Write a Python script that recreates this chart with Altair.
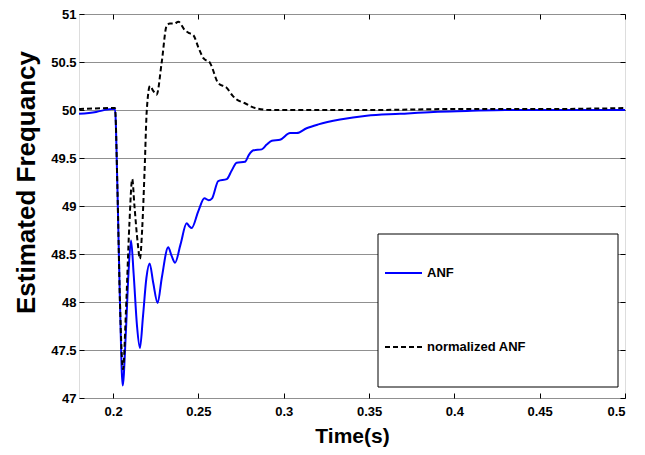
import altair as alt
import pandas as pd

# ---- data ----
anf_t = [0.180, 0.190, 0.199, 0.2011, 0.2025, 0.2040, 0.2056, 0.2075, 0.2090, 0.2105,
         0.2120, 0.2140, 0.2157, 0.2175, 0.2195, 0.2214, 0.2235, 0.2261, 0.2285, 0.2323,
         0.2343, 0.2363, 0.2395, 0.2431, 0.2446, 0.2460, 0.2500, 0.2535, 0.2560, 0.2580,
         0.2616, 0.2666, 0.2695, 0.2724, 0.2773, 0.2795, 0.2822, 0.2871, 0.2900, 0.2930,
         0.2978, 0.3037, 0.3076, 0.3134, 0.3203, 0.333, 0.3486, 0.3681, 0.3877, 0.4072,
         0.43, 0.5]
anf_f = [49.96, 49.98, 50.01, 50.01, 49.2, 48.0, 47.13, 47.7, 48.3, 48.64,
         48.3, 47.75, 47.52, 47.85, 48.25, 48.40, 48.2, 47.99, 48.25, 48.57,
         48.48, 48.41, 48.6, 48.82, 48.79, 48.77, 48.95, 49.08, 49.06, 49.08,
         49.26, 49.28, 49.37, 49.45, 49.46, 49.53, 49.58, 49.59, 49.64, 49.68,
         49.69, 49.76, 49.76, 49.81, 49.85, 49.90, 49.94, 49.96, 49.98, 49.99,
         50.0, 50.0]

nanf_t = [0.180, 0.199, 0.2011, 0.2025, 0.2040, 0.2058, 0.2075, 0.2095, 0.2112, 0.2125,
          0.2145, 0.2157, 0.2170, 0.2185, 0.2197, 0.2216, 0.2235, 0.2255, 0.2285, 0.2314,
          0.2333, 0.2360, 0.2382, 0.2421, 0.2447, 0.2470, 0.2500, 0.2529, 0.2568, 0.2616,
          0.2666, 0.2700, 0.2724, 0.2773, 0.2832, 0.292, 0.35, 0.40, 0.45, 0.5]
nanf_f = [50.01, 50.02, 50.02, 49.2, 48.0, 47.30, 47.9, 48.8, 49.28, 49.0,
          48.6, 48.45, 48.75, 49.4, 49.99, 50.25, 50.20, 50.16, 50.50, 50.88,
          50.90, 50.90, 50.92, 50.83, 50.80, 50.78, 50.65, 50.54, 50.49, 50.28,
          50.23, 50.15, 50.11, 50.07, 50.02, 50.0, 50.0, 50.01, 50.01, 50.02]

x_ticks = [0.2, 0.25, 0.3, 0.35, 0.4, 0.45, 0.5]
y_ticks = [47, 47.5, 48, 48.5, 49, 49.5, 50, 50.5, 51]
legend_labels = ["ANF", "normalized ANF"]

W, H = 546, 384
FONT = "Liberation Sans"

anf = pd.DataFrame({"t": anf_t, "f": anf_f})
nanf = pd.DataFrame({"t": nanf_t, "f": nanf_f})

xs = alt.Scale(domain=[0.18, 0.5], nice=False, zero=False)
ys = alt.Scale(domain=[47, 51], nice=False, zero=False)

x_main = alt.X("t:Q", scale=xs, axis=alt.Axis(
    values=x_ticks, format=".2~f", title="Time(s)", grid=False, ticks=False,
    labelFont=FONT, labelFontSize=13, labelFontWeight="bold", labelColor="black",
    labelPadding=7, domain=False,
    titleFont=FONT, titleFontSize=21, titleFontWeight="bold", titleColor="black",
    titleBaseline="alphabetic", titleY=44))
y_main = alt.Y("f:Q", scale=ys, axis=alt.Axis(
    values=y_ticks, format=".1~f", title="Estimated Frequancy", grid=True,
    gridColor="#909090", gridWidth=1, ticks=False, domain=False,
    labelFont=FONT, labelFontSize=13, labelFontWeight="bold", labelColor="black",
    labelPadding=3,
    titleFont=FONT, titleFontSize=26, titleFontWeight="bold", titleColor="black",
    titleBaseline="alphabetic", titleX=-45, titleY=168, titleAngle=-90, titleAlign="center"))

blue = alt.Chart(anf).mark_line(color="#0000ff", strokeWidth=2, interpolate="monotone", clip=True).encode(
    x=x_main, y=y_main)
black = alt.Chart(nanf).mark_line(color="black", strokeWidth=2, strokeDash=[5, 3],
                                  interpolate="monotone", clip=True).encode(
    x=alt.X("t:Q", scale=xs, axis=None), y=alt.Y("f:Q", scale=ys, axis=None))


def tick_axis(orient, offset, values):
    return alt.Axis(orient=orient, offset=offset, values=values, labels=False, domain=False,
                    ticks=True, tickSize=5, tickColor="black", tickWidth=1, grid=False, title=None)


ticks1 = alt.Chart(anf).mark_line(strokeOpacity=0).encode(
    x=alt.X("t:Q", scale=xs, axis=tick_axis("top", -H, x_ticks)),
    y=alt.Y("f:Q", scale=ys, axis=tick_axis("left", -W, y_ticks)))
ticks2 = alt.Chart(anf).mark_line(strokeOpacity=0).encode(
    x=alt.X("t:Q", scale=xs, axis=tick_axis("bottom", -H, x_ticks)),
    y=alt.Y("f:Q", scale=ys, axis=tick_axis("right", -W, y_ticks)))

# legend (drawn as a box with samples)
one = pd.DataFrame({"k": [0]})
lx0, lx1, ly0, ly1 = 299, 539, 220, 373
box = alt.Chart(one).mark_rect(fill="white", stroke="black", strokeWidth=1).encode(
    x=alt.value(lx0), x2=alt.value(lx1), y=alt.value(ly0), y2=alt.value(ly1))
row_y = [259, 333]
samples = []
for i, lab in enumerate(legend_labels):
    dash = [1, 0] if i == 0 else [5, 3]
    col = "#0000ff" if i == 0 else "black"
    samples.append(alt.Chart(one).mark_rule(color=col, strokeWidth=2, strokeDash=dash).encode(
        x=alt.value(306), x2=alt.value(343), y=alt.value(row_y[i])))
    samples.append(alt.Chart(pd.DataFrame({"lab": [lab]})).mark_text(
        align="left", baseline="middle", font=FONT, fontSize=13, fontWeight="bold", color="black").encode(
        x=alt.value(348), y=alt.value(row_y[i]), text="lab:N"))

chart = alt.layer(blue, black, ticks1, ticks2, box, *samples).resolve_axis(
    x="independent", y="independent"
).properties(
    width=W, height=H,
    autosize=alt.AutoSizeParams(type="none"),
    padding={"left": 71, "top": 6, "right": 12, "bottom": 49},
).configure_view(stroke="black", strokeWidth=1).configure(background="white")

chart.save("out.html", embed_options={"renderer": "svg", "actions": False})
